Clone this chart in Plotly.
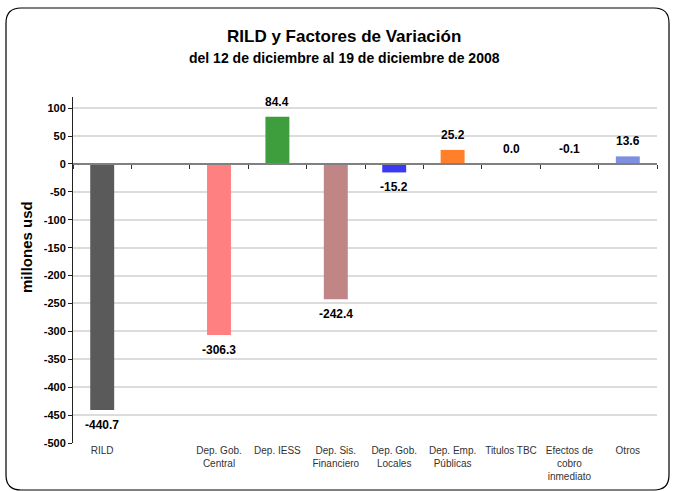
import plotly.graph_objects as go

categories = ["RILD", " ", "Dep. Gob.<br>Central", "Dep. IESS", "Dep. Sis.<br>Financiero",
              "Dep. Gob.<br>Locales", "Dep. Emp.<br>Públicas", "Titulos TBC",
              "Efectos de<br>cobro<br>inmediato", "Otros"]
values = [-440.7, None, -306.3, 84.4, -242.4, -15.2, 25.2, 0.0, -0.1, 13.6]
labels = ["-440.7", "", "-306.3", "84.4", "-242.4", "-15.2", "25.2", "0.0", "-0.1", "13.6"]
colors = ["#5a5a5a", "#ffffff", "#ff8080", "#3e9e3e", "#c08585", "#3a3af5",
          "#ff7f2a", "#808080", "#808080", "#7f8fe0"]
yticks = list(range(-500, 101, 50))

W, H = 674, 491
L, R, T, B = 73, 17, 97, 48
PW, PH = W - L - R, H - T - B

def px(x):
    return (x - L) / PW

def py(y):
    return (H - B - y) / PH

FONT = "Liberation Sans, Arial, sans-serif"

fig = go.Figure()
fig.add_trace(go.Bar(x=categories, y=values, marker=dict(color=colors, line=dict(width=0)),
                     width=0.41, showlegend=False, hoverinfo="skip"))
# invisible trace for the zero axis
fig.add_trace(go.Scatter(x=categories, y=[0]*len(categories), xaxis="x2", mode="none",
                         showlegend=False, hoverinfo="skip"))

annotations = []
for c, v, t in zip(categories, values, labels):
    if v is None:
        continue
    up = v >= -1
    annotations.append(dict(x=c, y=v, text="<b>%s</b>" % t, showarrow=False,
                            xanchor="center", yanchor="middle",
                            yshift=15 if up else -15, xref="x", yref="y",
                            font=dict(family=FONT, size=12, color="black")))

annotations += [
    dict(x=px(344), y=py(36), xref="paper", yref="paper", showarrow=False,
         xanchor="center", yanchor="middle",
         text="<b>RILD y Factores de Variación</b>",
         font=dict(family=FONT, size=17, color="black")),
    dict(x=px(344), y=py(58), xref="paper", yref="paper", showarrow=False,
         xanchor="center", yanchor="middle",
         text="<b>del 12 de diciembre al 19 de diciembre de 2008</b>",
         font=dict(family=FONT, size=14, color="black")),
    dict(x=px(27), y=py(247), xref="paper", yref="paper", showarrow=False,
         xanchor="center", yanchor="middle",
         text="<b>millones usd</b>", textangle=-90,
         font=dict(family=FONT, size=15, color="black")),
]

r = 15
x0, x1, y0, y1 = 6, 669, 8, 490
path = (f"M {px(x0)},{py(y0 + r)} Q {px(x0)},{py(y0)} {px(x0 + r)},{py(y0)} "
        f"L {px(x1 - r)},{py(y0)} Q {px(x1)},{py(y0)} {px(x1)},{py(y0 + r)} "
        f"L {px(x1)},{py(y1 - r)} Q {px(x1)},{py(y1)} {px(x1 - r)},{py(y1)} "
        f"L {px(x0 + r)},{py(y1)} Q {px(x0)},{py(y1)} {px(x0)},{py(y1 - r)} Z")

fig.update_layout(
    width=W, height=H,
    margin=dict(l=L, r=R, t=T, b=B, autoexpand=False),
    paper_bgcolor="white", plot_bgcolor="white",
    annotations=annotations,
    shapes=[dict(type="path", path=path, xref="paper", yref="paper",
                 line=dict(color="black", width=1.2), layer="below")],
    xaxis=dict(type="category", range=[-0.5, 9.5], showline=False, ticks="",
               showgrid=False, zeroline=False, automargin=False,
               tickfont=dict(family=FONT, size=10, color="#333333")),
    xaxis2=dict(type="category", matches="x", anchor="free", overlaying="x",
                position=500 / 620, side="bottom", showline=True, linecolor="#808080",
                linewidth=2, ticks="outside", ticklen=4, tickcolor="#333333",
                tickson="boundaries", showticklabels=False, showgrid=False,
                zeroline=False, automargin=False),
    yaxis=dict(range=[-500, 120], tickmode="array", tickvals=yticks,
               ticktext=["<b>%d</b>" % v for v in yticks],
               showline=True, linecolor="#222222", automargin=False,
               linewidth=1, ticks="outside", ticklen=4, tickcolor="#222222",
               showgrid=True, gridcolor="#dcdcdc", gridwidth=2, zeroline=False,
               tickfont=dict(family=FONT, size=11, color="black")),
    bargap=0.59,
)

fig.write_html("out.html", config={"displayModeBar": False},
               post_script="document.body.style.margin='0px';")
